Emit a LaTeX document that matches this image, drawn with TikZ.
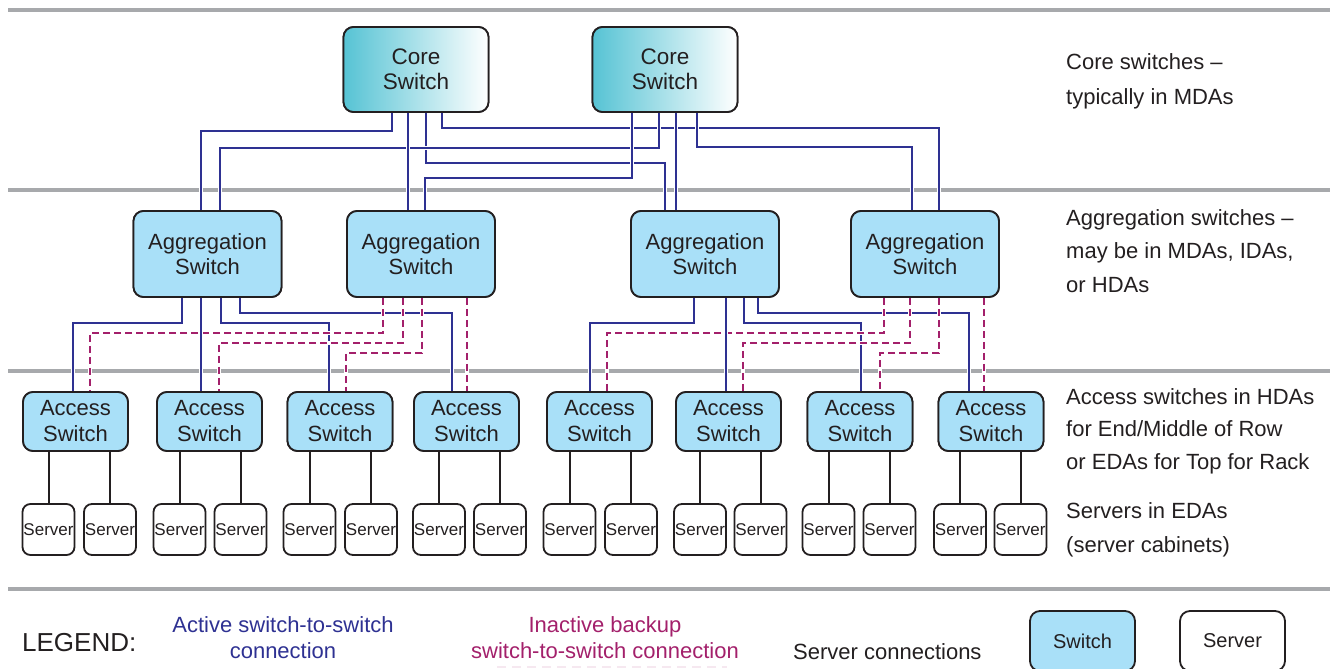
\documentclass[tikz,border=0pt]{standalone}
\usepackage{fontspec}
\setmainfont{Liberation Sans}
\definecolor{ink}{HTML}{231F20}
\definecolor{actc}{HTML}{2E3192}
\definecolor{bakc}{HTML}{A3206B}
\definecolor{sepc}{HTML}{A7A9AC}
\definecolor{swfill}{HTML}{A9E0F8}
\definecolor{coreL}{HTML}{56C3D4}
\begin{document}
\begin{tikzpicture}[x=1pt,y=-1pt,
 box/.style={draw=ink, line width=1.8pt, rounded corners=10pt, text=ink, align=center, inner sep=0pt},
 corebox/.style={box, minimum width=145pt, minimum height=85pt, left color=coreL, right color=white, font=\fontsize{22.5}{25.5}\selectfont},
 aggbox/.style={box, fill=swfill, minimum width=148pt, minimum height=86pt, font=\fontsize{22}{25.5}\selectfont},
 accbox/.style={box, fill=swfill, minimum width=105pt, minimum height=59pt, font=\fontsize{22}{26}\selectfont},
 srvbox/.style={box, fill=white, rounded corners=8pt, minimum width=52pt, minimum height=51pt, font=\fontsize{17}{19}\selectfont},
 legbox/.style={box, minimum width=105pt, minimum height=60pt, font=\fontsize{20}{24}\selectfont},
 sepline/.style={draw=sepc, line width=4pt},
 actline/.style={draw=actc, line width=2pt, preaction={draw=white, line width=4.5pt}},
 bakline/.style={draw=bakc, line width=2pt, dash pattern=on 7pt off 4pt, preaction={draw=white, line width=4.5pt, solid}},
 srvline/.style={draw=ink, line width=2pt},
 lbl/.style={anchor=base west, inner sep=0pt, text=ink, font=\fontsize{22}{26}\selectfont},
 leg/.style={anchor=base, inner sep=0pt, font=\fontsize{22}{26}\selectfont}
]
\clip (0,0) rectangle (1330,669);

% separators
\coordinate (g1a) at (8,10);   \coordinate (g1b) at (1330,10);
\coordinate (g2a) at (8,190);  \coordinate (g2b) at (1330,190);
\coordinate (g3a) at (8,371);  \coordinate (g3b) at (1330,371);
\coordinate (g4a) at (8,589);  \coordinate (g4b) at (1330,589);
\foreach \i in {1,2,3,4} \draw[sepline] (g\i a) -- (g\i b);

% boxes (placed first so connectors can reference them; redrawn later on top)
\node[corebox] (c1) at (416,69.5) {Core\\Switch};
\node[corebox] (c2) at (665,69.5) {Core\\Switch};
\node[aggbox] (a1) at (207.5,254) {Aggregation\\Switch};
\node[aggbox] (a2) at (421,254) {Aggregation\\Switch};
\node[aggbox] (a3) at (705,254) {Aggregation\\Switch};
\node[aggbox] (a4) at (925,254) {Aggregation\\Switch};
\foreach \i/\x in {1/75.5,2/209.5,3/340,4/466.5,5/599.5,6/728.5,7/860,8/991}
  \node[accbox] (acc\i) at (\x,421.5) {Access\\Switch};

% core -> aggregation
\draw[actline] (442,0 |- c1.south) -- (442,128) -| (939,0 |- a4.north);
\draw[actline] (392,0 |- c1.south) -- (392,131) -| (201,0 |- a1.north);
\draw[actline] (426,0 |- c1.south) -- (426,163) -| (665,0 |- a3.north);
\draw[actline] (659,0 |- c2.south) -- (659,148) -| (220,0 |- a1.north);
\draw[actline] (632,0 |- c2.south) -- (632,178) -| (425,0 |- a2.north);
\draw[actline] (408,0 |- c1.south) -- (408,0 |- a2.north);
\draw[actline] (697,0 |- c2.south) -- (697,147) -| (912,0 |- a4.north);
\draw[actline] (676,0 |- c2.south) -- (676,0 |- a3.north);

% aggregation -> access (active)
\draw[actline] (240,0 |- a1.south) -- (240,313) -| (452,0 |- acc4.north);
\draw[actline] (221,0 |- a1.south) -- (221,323) -| (329,0 |- acc3.north);
\draw[actline] (182,0 |- a1.south) -- (182,323) -| (73,0 |- acc1.north);
\draw[actline] (758,0 |- a3.south) -- (758,313) -| (969,0 |- acc8.north);
\draw[actline] (744,0 |- a3.south) -- (744,323) -| (861,0 |- acc7.north);
\draw[actline] (694,0 |- a3.south) -- (694,323) -| (590,0 |- acc5.north);

% aggregation -> access (backup)
\draw[bakline] (383,0 |- a2.south) -- (383,333) -| (90,0 |- acc1.north);
\draw[bakline] (403,0 |- a2.south) -- (403,343) -| (219,0 |- acc2.north);
\draw[bakline] (422,0 |- a2.south) -- (422,353) -| (346,0 |- acc3.north);
\draw[bakline] (467,0 |- a2.south) -- (467,0 |- acc4.north);
\draw[bakline] (884,0 |- a4.south) -- (884,333) -| (607,0 |- acc5.north);
\draw[bakline] (910,0 |- a4.south) -- (910,343) -| (743,0 |- acc6.north);
\draw[bakline] (939,0 |- a4.south) -- (939,353) -| (880,0 |- acc7.north);
\draw[bakline] (984,0 |- a4.south) -- (984,0 |- acc8.north);

% vertical active lines drawn last so they sit on top
\draw[actline] (201,0 |- a1.south) -- (201,0 |- acc2.north);
\draw[actline] (726,0 |- a3.south) -- (726,0 |- acc6.north);

% redraw boxes on top of connector ends
\node[corebox] at (c1) {Core\\Switch};
\node[corebox] at (c2) {Core\\Switch};
\foreach \n in {a1,a2,a3,a4} \node[aggbox] at (\n) {Aggregation\\Switch};
\foreach \i in {1,...,8} \node[accbox] at (acc\i) {Access\\Switch};

% servers
\foreach \i/\xa/\xb in {1/48.5/110,2/179.5/240.5,3/309.5/371,4/439/500,5/569.5/631,6/700/760.5,7/828.5/889.5,8/960/1020.5}{
  \node[srvbox] (s\i a) at (\xa,529.5) {Server};
  \node[srvbox] (s\i b) at (\xb,529.5) {Server};
  \draw[srvline] (s\i a.north) -- (s\i a.north |- acc\i.south);
  \draw[srvline] (s\i b.north) -- (s\i b.north |- acc\i.south);
}

% right-hand labels
\node[lbl] (l1) at (1066,70) {Core switches –};
\node[lbl] (l2) at (1066,104) {typically in MDAs};
\node[lbl] (l3) at (1066,225) {Aggregation switches –};
\node[lbl] (l4) at (1066,258) {may be in MDAs, IDAs,};
\node[lbl] (l5) at (1066,292) {or HDAs};
\node[lbl] (l6) at (1066,404) {Access switches in HDAs};
\node[lbl] (l7) at (1066,436) {for End/Middle of Row};
\node[lbl] (l8) at (1066,469) {or EDAs for Top for Rack};
\node[lbl] (l9) at (1066,518) {Servers in EDAs};
\node[lbl] (l10) at (1066,552) {(server cabinets)};

% legend
\node[anchor=base west, inner sep=0pt, text=ink, font=\fontsize{26}{28}\selectfont] (lg) at (22,651) {LEGEND:};
\node[leg, text=actc] (la1) at (283,632) {Active switch-to-switch};
\node[leg, text=actc] (la2) at (283,658) {connection};
\node[leg, text=bakc] (lb1) at (605,632) {Inactive backup};
\node[leg, text=bakc] (lb2) at (605,658) {switch-to-switch connection};
\node[leg, anchor=base west, text=ink] (ls) at (793,659) {Server connections};
\node[legbox, fill=swfill] (lsw) at (1082.5,641) {Switch};
\node[legbox, fill=white] (lsv) at (1232.5,641) {Server};
\coordinate (bs1) at (497,667);
\coordinate (bs2) at (727,667);
\draw[draw=bakc, opacity=0.1, line width=2pt, dash pattern=on 9pt off 6pt] (bs1) -- (bs2);
\end{tikzpicture}
\end{document}
